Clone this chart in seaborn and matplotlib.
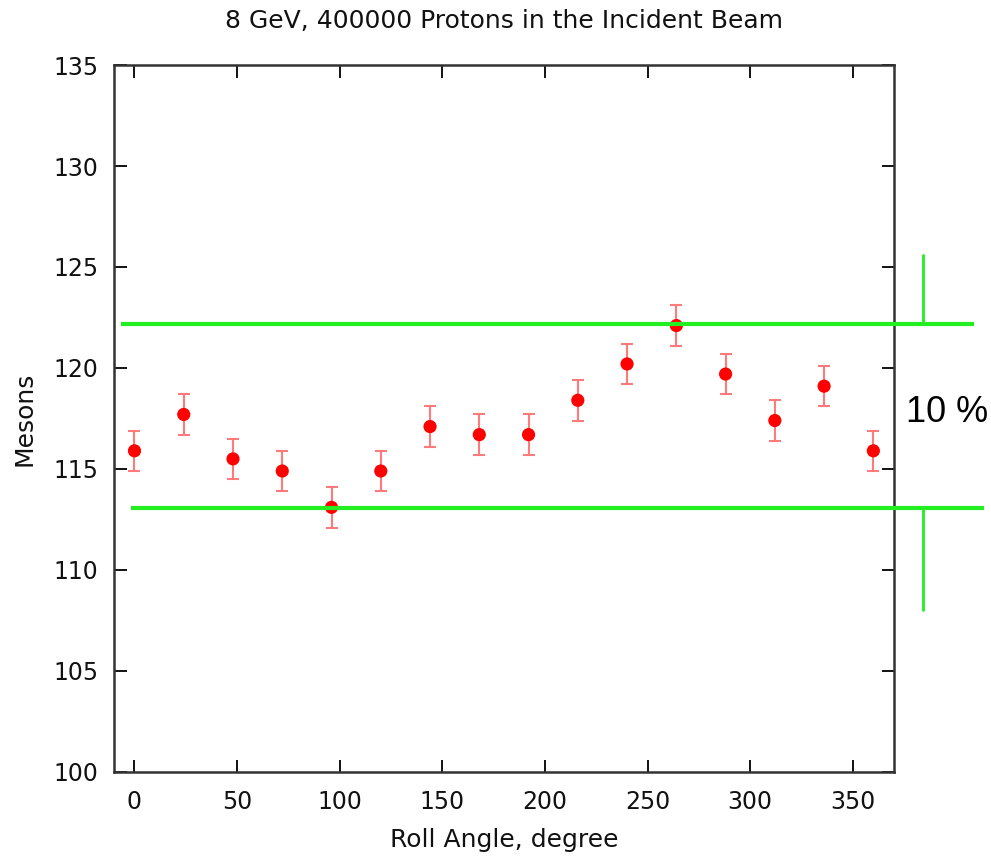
import matplotlib
matplotlib.use("Agg")
import numpy as np
import pandas as pd
import seaborn as sns
import matplotlib.pyplot as plt

# roll angle (degree) and meson counts
angles = [0, 24, 48, 72, 96, 120, 144, 168, 192, 216, 240, 264, 288, 312, 336, 360]
mesons = [115.9, 117.7, 115.5, 114.9, 113.1, 114.9, 117.1, 116.7, 116.7, 118.4,
          120.2, 122.1, 119.7, 117.4, 119.1, 115.9]
errors = [1.0] * len(angles)

band_hi = 122.2
band_lo = 113.05

df = pd.DataFrame({"angle": angles, "mesons": mesons, "err": errors})

sns.set_theme(style="ticks")
plt.rcParams["font.family"] = ["DejaVu Sans"]

fig = plt.figure(figsize=(9.91, 8.61), dpi=100)
ax = fig.add_axes([0.115, 0.1034, 0.787, 0.8211])

ax.errorbar(df["angle"], df["mesons"], yerr=df["err"], fmt="none",
            ecolor="#ff7a7a", elinewidth=1.5, capsize=4.5, capthick=1.5, zorder=2)
sns.scatterplot(data=df, x="angle", y="mesons", ax=ax, color="red",
                s=90, edgecolor="none", zorder=3, legend=False)

# green 10% band, drawn past the axes like in the original
ax.plot([-6.8, 408.8], [band_hi, band_hi], color="#22ee22", lw=3.0,
        clip_on=False, zorder=4, solid_capstyle="butt")
ax.plot([-1.5, 414], [band_lo, band_lo], color="#22ee22", lw=3.0,
        clip_on=False, zorder=4, solid_capstyle="butt")
ax.plot([384.4, 384.4], [band_hi, 125.6], color="#22ee22", lw=2.0, clip_on=False)
ax.plot([384.4, 384.4], [band_lo, 108.0], color="#22ee22", lw=2.0, clip_on=False)
ax.text(376, 117.8, "10 %", fontsize=26, va="center", ha="left",
        family=["Liberation Sans"], color="black", clip_on=False)

ax.set_xlim(-10, 370)
ax.set_ylim(100, 135)
ax.set_xticks([0, 50, 100, 150, 200, 250, 300, 350])
ax.set_yticks([100, 105, 110, 115, 120, 125, 130, 135])
ax.tick_params(direction="in", length=9, width=1.4, top=True, right=True,
               labelsize=17, colors="#111111")
ax.tick_params(axis="x", pad=13)
ax.tick_params(axis="y", pad=11)
for sp in ax.spines.values():
    sp.set_linewidth(1.8)
    sp.set_color("#333333")

ax.set_xlabel("Roll Angle, degree", fontsize=18, labelpad=10, color="#111111")
ax.set_ylabel("Mesons", fontsize=18, labelpad=12, color="#111111")
ax.set_title("8 GeV, 400000 Protons in the Incident Beam", fontsize=18, pad=27,
             color="#111111")

fig.savefig("out.png", dpi=100)
